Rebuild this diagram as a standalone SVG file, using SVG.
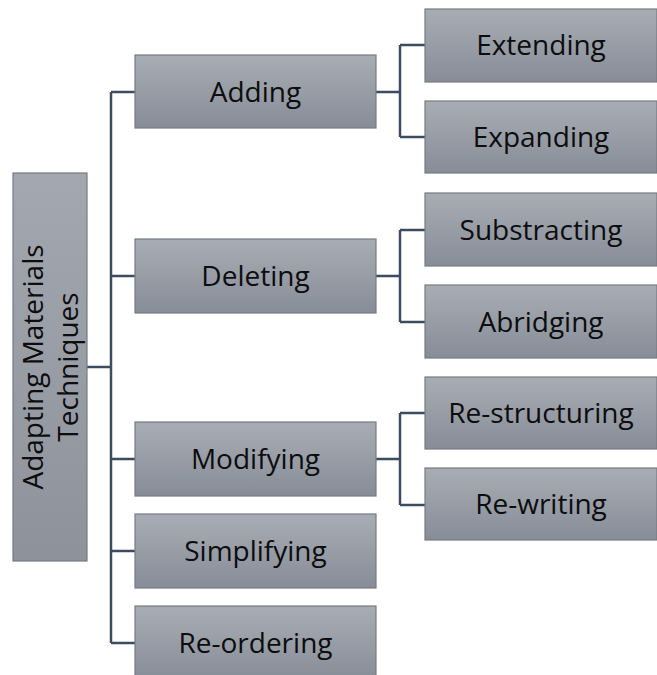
<svg xmlns="http://www.w3.org/2000/svg" width="657" height="675" viewBox="0 0 657 675">
<defs>
<linearGradient id="g" x1="0" y1="0" x2="0" y2="1">
<stop offset="0" stop-color="#a8adb5"/>
<stop offset="1" stop-color="#878d97"/>
</linearGradient>
<linearGradient id="gr" x1="0" y1="0" x2="0" y2="1">
<stop offset="0" stop-color="#a3a8b0"/>
<stop offset="1" stop-color="#8d929b"/>
</linearGradient>
<style>
.b{fill:url(#g);stroke:#767b83;stroke-width:1.2}
.r{fill:url(#gr);stroke:#767b83;stroke-width:1.2}
.t{font-family:"Open Sans","Noto Sans",sans-serif;font-size:28px;fill:#0d0d0d;text-anchor:middle}
.c{fill:none;stroke:#3d4b5f;stroke-width:2.5}
</style>
</defs>
<g id="connectors">
<path class="c" d="M87,367H111M111,92V643M111,92H135M111,276H135M111,459H135M111,551H135M111,643H135"/>
<path class="c" d="M376,92H400M400,45V137M400,45H425M400,137H425"/>
<path class="c" d="M376,276H400M400,230V322M400,230H425M400,322H425"/>
<path class="c" d="M376,459H400M400,413V505M400,413H425M400,505H425"/>
</g>
<g id="root">
<rect class="r" x="13" y="173" width="74" height="388"/>
<g transform="translate(0,367) rotate(-90)">
<text class="t" x="0" y="43">Adapting Materials</text>
<text class="t" x="0" y="78">Techniques</text>
</g>
</g>
<g id="adding"><rect class="b" x="135" y="55" width="241" height="73"/><text class="t" x="255.5" y="102">Adding</text></g>
<g id="deleting"><rect class="b" x="135" y="239" width="241" height="74"/><text class="t" x="255.5" y="286">Deleting</text></g>
<g id="modifying"><rect class="b" x="135" y="422" width="241" height="74"/><text class="t" x="255.5" y="469">Modifying</text></g>
<g id="simplifying"><rect class="b" x="135" y="514" width="241" height="74"/><text class="t" x="255.5" y="561">Simplifying</text></g>
<g id="reordering"><rect class="b" x="135" y="606" width="241" height="74"/><text class="t" x="255.5" y="653">Re-ordering</text></g>
<g id="extending"><rect class="b" x="425" y="9" width="232" height="73"/><text class="t" x="541" y="55">Extending</text></g>
<g id="expanding"><rect class="b" x="425" y="101" width="232" height="72"/><text class="t" x="541" y="147">Expanding</text></g>
<g id="substracting"><rect class="b" x="425" y="193" width="232" height="73"/><text class="t" x="541" y="240">Substracting</text></g>
<g id="abridging"><rect class="b" x="425" y="285" width="232" height="73"/><text class="t" x="541" y="332">Abridging</text></g>
<g id="restructuring"><rect class="b" x="425" y="377" width="232" height="72"/><text class="t" x="541" y="423">Re-structuring</text></g>
<g id="rewriting"><rect class="b" x="425" y="468" width="232" height="72"/><text class="t" x="541" y="514">Re-writing</text></g>
</svg>
